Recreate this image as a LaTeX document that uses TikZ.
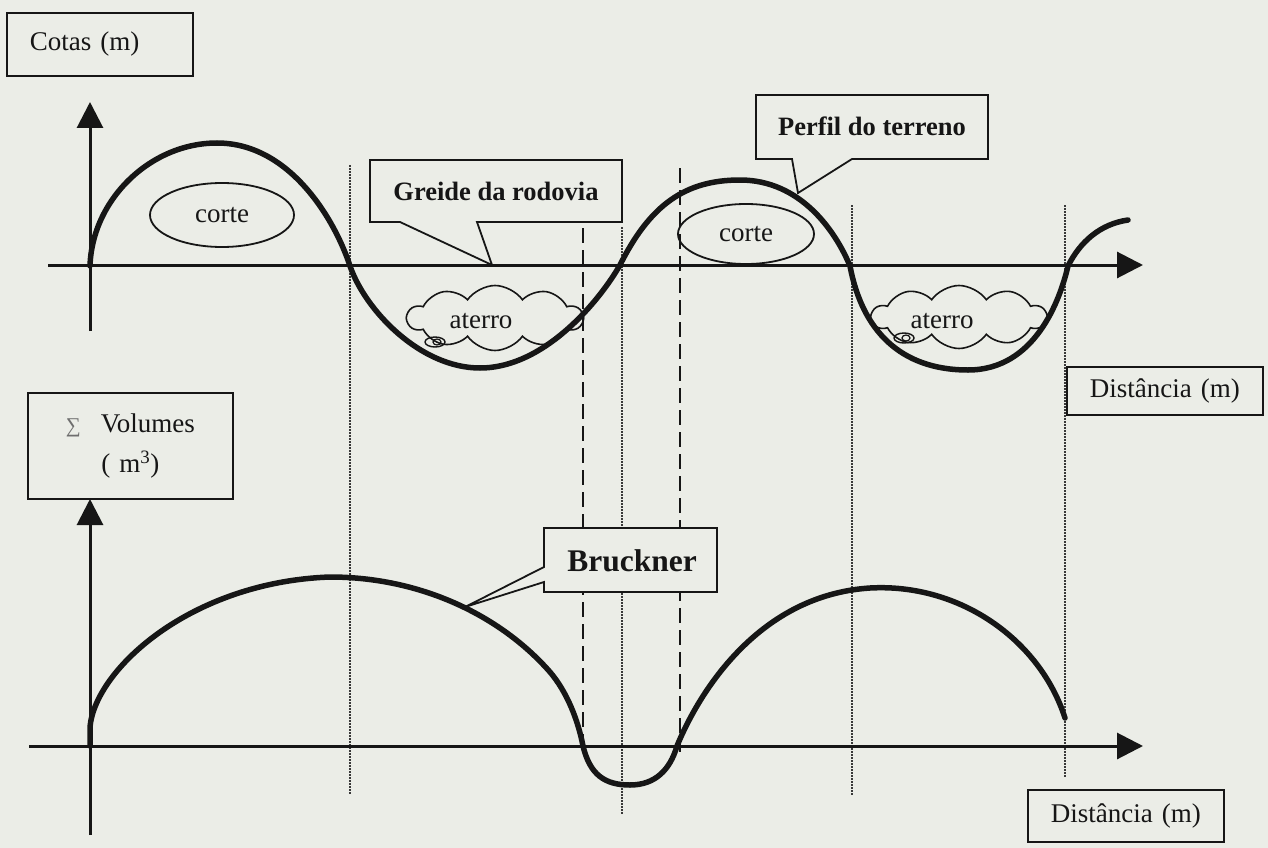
\documentclass[tikz,border=0pt]{standalone}
\usepackage{fontspec}
\setmainfont{Liberation Serif}
\usetikzlibrary{arrows.meta,shapes.symbols,shapes.geometric}
\definecolor{paper}{RGB}{235,237,231}
\definecolor{ink}{RGB}{22,22,22}
\definecolor{sumgray}{RGB}{110,110,110}
\begin{document}
\begin{tikzpicture}[x=1pt,y=-1pt,
  axis/.style={line width=3pt, draw=ink, -{Triangle[length=26pt,width=26pt]}},
  curve/.style={line width=5.5pt, draw=ink, line cap=round},
  dotline/.style={line width=2pt, draw=ink!85, dash pattern=on 1.5pt off 1.5pt},
  dashline/.style={line width=2pt, draw=ink, dash pattern=on 15pt off 7pt},
  labelbox/.style={draw=ink, line width=1.8pt, fill=paper, inner ysep=0pt},
  callout/.style={draw=ink, line width=1.8pt, fill=paper, line join=miter},
  reg/.style={font=\fontsize{27}{32}\selectfont, text=ink},
  bld/.style={font=\fontsize{26.5}{32}\selectfont\bfseries, text=ink},
  shapeline/.style={draw=ink, line width=1.8pt}
]
% background / page
\fill[paper] (0,0) rectangle (1268,848);
\useasboundingbox (0,0) rectangle (1268,848);

% vertical guide lines
\draw[dotline] (350,165) -- (350,795);
\draw[dashline] (583,228) -- (583,742);
\draw[dotline] (622,227) -- (622,815);
\draw[dashline] (680,168) -- (680,752);
\draw[dotline] (852,205) -- (852,795);
\draw[dotline] (1065,205) -- (1065,778);

% axes
\coordinate (ya1) at (90,331);
\coordinate (yb1) at (90,102);
\coordinate (xa1) at (48,265);
\coordinate (xb1) at (1143,265);
\coordinate (ya2) at (90,835);
\coordinate (yb2) at (90,499);
\coordinate (xa2) at (29,746);
\coordinate (xb2) at (1143,746);
\draw[axis] (ya1) -- (yb1);
\draw[axis] (xa1) -- (xb1);
\draw[axis] (ya2) -- (yb2);
\draw[axis] (xa2) -- (xb2);

% terrain profile
\draw[curve] (90,266) .. controls (92,200) and (150,143) .. (217,143)
  .. controls (290,143) and (335,220) .. (350,266)
  .. controls (365,310) and (420,368) .. (480,368)
  .. controls (545,368) and (600,300) .. (620,265)
  .. controls (650,205) and (685,180) .. (740,180)
  .. controls (800,180) and (835,230) .. (850,266)
  .. controls (862,330) and (900,370) .. (968,370)
  .. controls (1035,370) and (1060,300) .. (1068,266)
  .. controls (1080,242) and (1100,224) .. (1128,220);

% Bruckner curve
\draw[curve] (90,746) -- (90,727) .. controls (95,670) and (190,582) .. (330,577)
  .. controls (420,577) and (500,615) .. (550,672)
  .. controls (567,692) and (578,720) .. (583,746)
  .. controls (590,775) and (605,785) .. (630,785)
  .. controls (655,785) and (670,770) .. (677,746)
  .. controls (700,690) and (760,595) .. (870,588)
  .. controls (960,583) and (1040,640) .. (1065,718);

% corte ellipses
\node[shapeline, ellipse, minimum width=144pt, minimum height=64pt, inner sep=0pt, reg] (corte1) at (222,215) {corte};
\node[shapeline, ellipse, minimum width=136pt, minimum height=60pt, inner sep=0pt, reg] (corte2) at (746,234) {corte};

% aterro clouds
\node[shapeline, line width=1.6pt, cloud, cloud puffs=10, cloud puff arc=110, aspect=2.7, minimum width=175pt, minimum height=65pt, inner sep=0pt] (cloud1) at (495,318) {};
\node[reg] (aterro1) at (481,321) {aterro};
\draw[shapeline, line width=1.4pt] (435,342) ellipse [x radius=10, y radius=5];
\draw[shapeline, line width=1.2pt] (437,342) ellipse [x radius=4, y radius=3];
\node[shapeline, line width=1.6pt, cloud, cloud puffs=10, cloud puff arc=110, aspect=2.7, minimum width=174pt, minimum height=63pt, inner sep=0pt] (cloud2) at (959,317) {};
\node[reg] (aterro2) at (942,321) {aterro};
\draw[shapeline, line width=1.4pt] (904,338) ellipse [x radius=10, y radius=5];
\draw[shapeline, line width=1.2pt] (906,338) ellipse [x radius=4, y radius=3];

% axis label boxes
\node[labelbox, anchor=north west, minimum width=186pt, minimum height=63pt, inner xsep=23pt, text width=140pt, align=left, reg] (cotas) at (6,12) {Cotas (m)};
\node[labelbox, anchor=north west, minimum width=196pt, minimum height=48pt, inner xsep=23pt, text width=150pt, align=left, reg] (dist1) at (1066,366) {Distância (m)};
\node[labelbox, anchor=north west, minimum width=196pt, minimum height=52pt, inner xsep=23pt, text width=150pt, align=left, reg] (dist2) at (1027,789) {Distância (m)};
\node[labelbox, anchor=north west, minimum width=205pt, minimum height=106pt, inner xsep=0pt, text width=205pt, align=center, font=\fontsize{27}{42}\selectfont, text=ink] (vol) at (27,392) {{\color{sumgray}\fontsize{21}{21}\selectfont ∑}\hspace{20pt}Volumes\\[-2pt]( m\textsuperscript{3})};

% callouts
\coordinate (gtip) at (492,265);
\path[callout] (370,160) -- (622,160) -- (622,222) -- (477,222) -- (gtip) -- (400,222) -- (370,222) -- cycle;
\node[bld] (greide) at (496,191) {Greide da rodovia};

\coordinate (ptip) at (798,193);
\path[callout] (756,95) -- (988,95) -- (988,159) -- (852,159) -- (ptip) -- (792,159) -- (756,159) -- cycle;
\node[bld] (perfil) at (872,126) {Perfil do terreno};

\coordinate (btip) at (465,607);
\path[callout] (544,528) -- (717,528) -- (717,592) -- (544,592) -- (544,582) -- (btip) -- (544,567) -- cycle;
\node[font=\fontsize{31.5}{36}\selectfont\bfseries, text=ink] (bruckner) at (632,561) {Bruckner};
\end{tikzpicture}
\end{document}
